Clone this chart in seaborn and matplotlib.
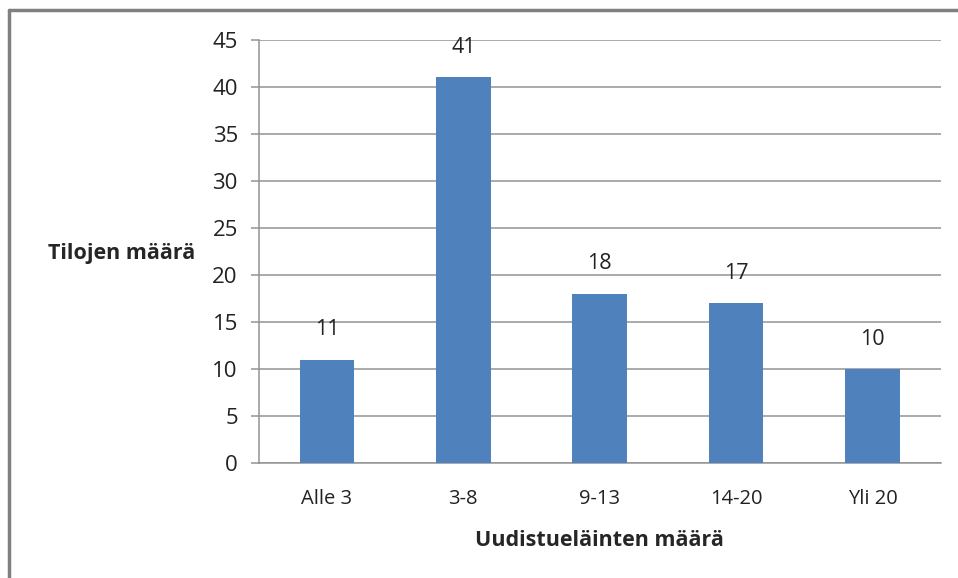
import pandas as pd
import seaborn as sns
import matplotlib.pyplot as plt
from matplotlib.lines import Line2D

# Data
categories = ['Alle 3', '3-8', '9-13', '14-20', 'Yli 20']
counts = [11, 41, 18, 17, 10]
y_ticks = list(range(0, 50, 5))

df = pd.DataFrame({'ryhma': categories, 'tilat': counts})

sns.set_style('white')
plt.rcParams['font.family'] = ['Open Sans', 'DejaVu Sans']

fig = plt.figure(figsize=(9.58, 5.78), dpi=100)
ax = fig.add_axes([0.27, 0.199, 0.712, 0.732])

sns.barplot(data=df, x='ryhma', y='tilat', color='#4F81BD', width=0.4,
            saturation=1, linewidth=0, ax=ax, zorder=3)

ax.set_ylim(0, 45)
ax.set_xlim(-0.5, len(categories) - 0.5)
ax.set_yticks(y_ticks)
ax.yaxis.grid(True, color='#939393', linewidth=1.1, zorder=0)
ax.set_axisbelow(True)

for side in ['top', 'right']:
    ax.spines[side].set_visible(False)
for side in ['left', 'bottom']:
    ax.spines[side].set_color('#939393')
    ax.spines[side].set_linewidth(1.1)

# x ticks between categories like Excel
ax.set_xticks(range(len(categories)))
ax.set_xticklabels(categories)
ax.tick_params(axis='x', which='major', length=0, pad=19, labelsize=14.5, colors='#222222')
ax.set_xticks([i - 0.5 for i in range(len(categories) + 1)], minor=True)
ax.tick_params(axis='x', which='minor', length=7, width=1.1, color='#939393', direction='out')
ax.tick_params(axis='y', length=6, width=1.1, color='#939393', labelsize=16,
               labelcolor='#222222', pad=9, left=True)

ax.bar_label(ax.containers[0], padding=14, fontsize=15.5, color='#222222')

ax.set_xlabel('Uudistueläinten määrä', fontsize=15.5, fontweight='bold', labelpad=15)
ax.set_ylabel('')
fig.text(0.05, 0.562, 'Tilojen määrä', fontsize=15.5, fontweight='bold', va='center')

# figure frame (left and top edges visible)
fig.add_artist(Line2D([0.009, 0.009], [0, 0.983], color='#808080', linewidth=2.5,
                      transform=fig.transFigure))
fig.add_artist(Line2D([0.009, 1.0], [0.983, 0.983], color='#808080', linewidth=2.5,
                      transform=fig.transFigure))

fig.savefig('out.png', dpi=100)
